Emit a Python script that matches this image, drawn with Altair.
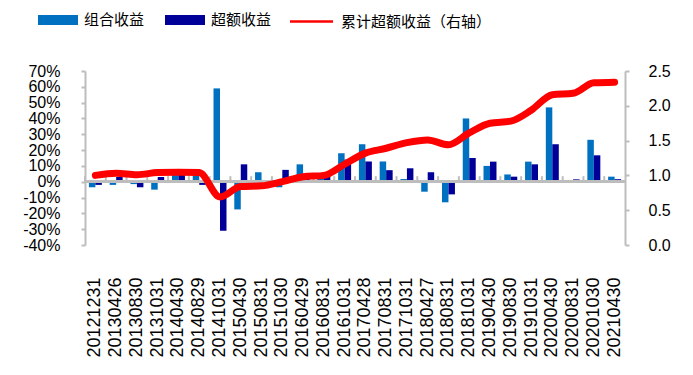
import altair as alt
import pandas as pd

dates = ["20121231", "20130426", "20130830", "20131031", "20140430", "20140829",
         "20141031", "20150430", "20150831", "20151030", "20160429", "20160831",
         "20161031", "20170428", "20170831", "20171031", "20180427", "20180831",
         "20181031", "20190430", "20190830", "20191031", "20200430", "20200831",
         "20201030", "20210430"]
# percent values
portfolio = [-3.5, -2, -1.5, -5, 8, 4, 59, -17.5, 6, -3.5, 11, 3, 18, 23.7, 12.8, 1.7,
             -6.3, -13, 40, 10, 4.6, 12.7, 47, -0.3, 26.5, 3.2]
excess = [-2, 3, -3.5, 3, 5, -2, -31, 11, 0.3, 7.5, 5, 3, 14, 12.8, 7.3, 8.5,
          6, -8, 15, 12.7, 3.2, 11, 23.7, 1.5, 16.7, 1.6]
cumulative = [1.00, 1.03, 1.01, 1.04, 1.045, 1.04, 0.69, 0.84, 0.85, 0.91, 0.98, 1.00,
              1.16, 1.32, 1.39, 1.47, 1.51, 1.44, 1.61, 1.75, 1.78, 1.94, 2.16, 2.18,
              2.33, 2.34]

S1 = "组合收益"
S2 = "超额收益"
S3 = "累计超额收益（右轴）"

left_ticks = [-0.4, -0.3, -0.2, -0.1, 0.0, 0.1, 0.2, 0.3, 0.4, 0.5, 0.6, 0.7]
right_ticks = [0.0, 0.5, 1.0, 1.5, 2.0, 2.5]

bars_df = pd.DataFrame({
    "date": dates * 2,
    "series": [S1] * len(dates) + [S2] * len(dates),
    "value": [v / 100 for v in portfolio + excess],
})
line_df = pd.DataFrame({"date": dates, "cum": cumulative, "series": [S3] * len(dates)})
tick_df = pd.DataFrame({"date": dates})

GRAY = "#bdbdbd"
LABEL_FONT = "Liberation Sans"
CJK = "Noto Sans CJK SC"

xscale = alt.Scale(domain=dates, paddingInner=0, paddingOuter=0)
yscale = alt.Scale(domain=[-0.4, 0.7], nice=False, zero=False)

x_axis = alt.Axis(title=None, labelAngle=-90, labelPadding=32, domain=False,
                  ticks=False, labelFontSize=18, labelColor="black",
                  labelFont=LABEL_FONT)
left_axis = alt.Axis(title=None, values=left_ticks, tickCount=12,
                     labelExpr="(datum.value < -0.0001 ? '-' : '') + format(abs(datum.value), '.0%')",
                     grid=False, labelOverlap=False,
                     domainColor=GRAY, domainWidth=2, tickColor=GRAY, tickWidth=2,
                     tickSize=4, labelPadding=21, labelFontSize=16,
                     labelColor="black", labelFont=LABEL_FONT)

bars = alt.Chart(bars_df).mark_bar().encode(
    x=alt.X("date:N", scale=xscale, sort=dates, axis=x_axis),
    xOffset=alt.XOffset("series:N", sort=[S1, S2],
                        scale=alt.Scale(domain=[S1, S2], paddingInner=0, paddingOuter=0.6)),
    y=alt.Y("value:Q", scale=yscale, axis=left_axis),
    color=alt.Color("series:N", sort=[S1, S2],
                    scale=alt.Scale(domain=[S1, S2], range=["#0070C0", "#000099"]),
                    legend=alt.Legend(orient="none", legendX=-37, legendY=-61,
                                      direction="horizontal", title=None,
                                      symbolType="M-2,-0.5H2V0.5H-2Z", symbolSize=400,
                                      symbolStrokeWidth=0, labelFont=CJK, labelFontSize=15,
                                      labelColor="black", labelOffset=16, columnPadding=20)),
)

zero_rule = alt.Chart(tick_df).mark_rule(color=GRAY, strokeWidth=2.5).encode(
    y=alt.YDatum(0, type="quantitative", scale=yscale, axis=left_axis)
)

tick_rules = alt.Chart(tick_df).mark_rule(color=GRAY, strokeWidth=2).encode(
    x=alt.X("date:N", scale=xscale, sort=dates, bandPosition=0, axis=x_axis),
    y=alt.YDatum(0, type="quantitative", scale=yscale, axis=left_axis),
    y2=alt.datum(0.035),
)

inner = alt.layer(bars, zero_rule, tick_rules)

line = alt.Chart(line_df).mark_line(strokeWidth=7, interpolate="monotone",
                                     strokeCap="round", strokeJoin="round").encode(
    x=alt.X("date:N", scale=xscale, sort=dates, axis=x_axis),
    y=alt.Y("cum:Q", scale=alt.Scale(domain=[0, 2.5], nice=False, zero=False),
            axis=alt.Axis(orient="right", title=None, values=right_ticks, format=".1f",
                          grid=False, labelOverlap=False, domainColor=GRAY, domainWidth=2,
                          tickColor=GRAY, tickWidth=2, tickSize=4, labelPadding=19,
                          labelFontSize=16, labelColor="black", labelFont=LABEL_FONT)),
    stroke=alt.Stroke("series:N", scale=alt.Scale(domain=[S3], range=["#FF0000"]),
                      legend=alt.Legend(orient="none", legendX=215, legendY=-61,
                                        direction="horizontal", title=None,
                                        symbolType="M-2.15,0H2.15", symbolSize=400,
                                        symbolStrokeWidth=2.5, labelFont=CJK,
                                        labelFontSize=15, labelColor="black",
                                        labelOffset=18)),
)

chart = alt.layer(inner, line).resolve_scale(
    y="independent"
).properties(
    width=540, height=174,
    padding={"left": 14, "top": 2, "right": 5, "bottom": 5},
).configure_view(stroke=None)

chart.save("out.html", embed_options={"renderer": "svg", "actions": False})
